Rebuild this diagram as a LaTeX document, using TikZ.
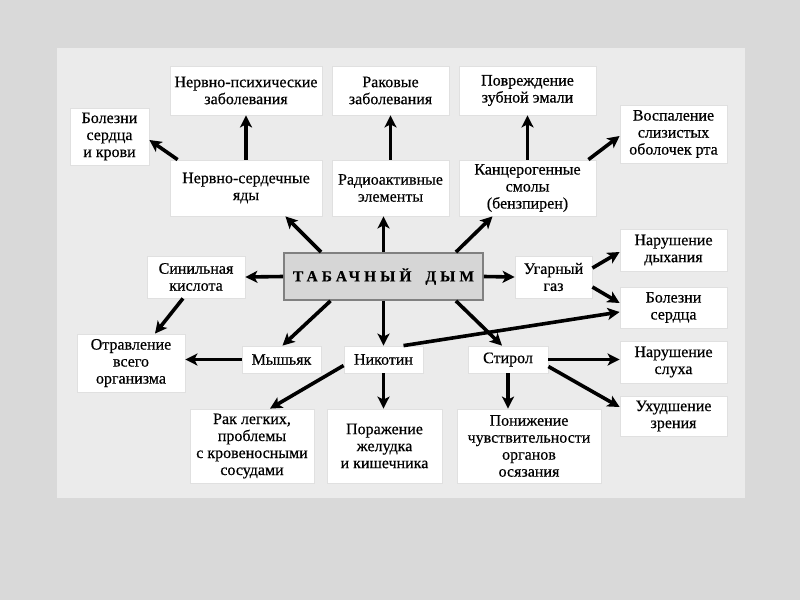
\documentclass[tikz,border=0pt]{standalone}
\usepackage{fontspec}
\setmainfont{Liberation Serif}[FakeBold=0.5]
\usetikzlibrary{arrows.meta}

\tikzset{
  box/.style={draw=black!12, line width=0.8pt, fill=white, align=center, inner sep=1pt,
    font=\fontsize{16}{17}\selectfont},
  smokebox/.style={draw=black!50, line width=1.8pt, fill=black!16, align=center,
    font=\fontsize{15.5}{18}\selectfont\bfseries\addfontfeatures{LetterSpace=26}},
  arr/.style={line width=3.6pt, -{Stealth[length=12pt,width=12pt,inset=3pt]}}
}

\begin{document}
\begin{tikzpicture}[x=1pt, y=-1pt]
        % Background and panel
        \useasboundingbox (0,0) rectangle (800,600);
        \fill[black!15] (0,0) rectangle (800,600);
        \fill[black!8] (57,48) rectangle (745,498);

        % Top row
        \node[box, minimum width=152pt, minimum height=49pt] (psych) at (246,90.5) {Нервно-психические\\заболевания};
        \node[box, minimum width=117pt, minimum height=49pt] (cancer) at (390.5,90.5) {Раковые\\заболевания};
        \node[box, minimum width=137pt, minimum height=49pt] (enamel) at (527.5,90.5) {Повреждение\\зубной эмали};
        \node[box, minimum width=79pt, minimum height=57pt] (heartblood) at (109.5,136.5) {Болезни\\сердца\\и крови};
        \node[box, minimum width=107pt, minimum height=58pt] (mucosa) at (673.5,134) {Воспаление\\слизистых\\оболочек рта};

        % Second row
        \node[box, minimum width=152pt, minimum height=56pt] (nervepois) at (246,188) {Нервно-сердечные\\яды};
        \node[box, minimum width=117pt, minimum height=56pt] (radio) at (390.5,188) {Радиоактивные\\элементы};
        \node[box, minimum width=137pt, minimum height=56pt] (tar) at (527.5,188) {Канцерогенные\\смолы\\(бензпирен)};

        % Centre row
        \node[smokebox, minimum width=199pt, minimum height=47pt] (smoke) at (383.5,276.5) {ТАБАЧНЫЙ\hspace{14pt}ДЫМ};
        \node[box, minimum width=98pt, minimum height=42pt] (cyanide) at (196,277) {Синильная\\кислота};
        \node[box, minimum width=77pt, minimum height=42pt] (monox) at (553.5,277) {Угарный\\газ};
        \node[box, minimum width=107pt, minimum height=42pt] (breath) at (673.5,250) {Нарушение\\дыхания};
        \node[box, minimum width=107pt, minimum height=41pt] (heart) at (673.5,307.5) {Болезни\\сердца};

        % Third row
        \node[box, minimum width=108pt, minimum height=58pt] (poison) at (131,363) {Отравление\\всего\\организма};
        \node[box, minimum width=79pt, minimum height=27pt] (arsenic) at (281.5,359.5) {Мышьяк};
        \node[box, minimum width=79pt, minimum height=27pt] (nicotine) at (383.5,359.5) {Никотин};
        \node[box, minimum width=80pt, minimum height=27pt] (styrene) at (508,359.5) {Стирол};
        \node[box, minimum width=107pt, minimum height=42pt] (hearing) at (673.5,362) {Нарушение\\слуха};
        \node[box, minimum width=107pt, minimum height=40pt] (sight) at (673.5,416) {Ухудшение\\зрения};

        % Bottom row
        \node[box, minimum width=124pt, minimum height=74pt] (lungs) at (252,446) {Рак легких,\\проблемы\\с кровеносными\\сосудами};
        \node[box, minimum width=115pt, minimum height=74pt] (stomach) at (384.5,446) {Поражение\\желудка\\и кишечника};
        \node[box, minimum width=144pt, minimum height=74pt] (touch) at (529,446) {Понижение\\чувствительности\\органов\\осязания};

        % Arrows from the centre
        \draw[arr] ([xshift=38pt]smoke.north west) -- ([xshift=-37pt]nervepois.south east);
        \draw[arr] (smoke.north) -- (smoke.north |- radio.south);
        \draw[arr] ([xshift=-28pt]smoke.north east) -- ([xshift=-35pt]tar.south);
        \draw[arr] (smoke.west) -- (cyanide.east);
        \draw[arr] (smoke.east) -- (monox.west);
        \draw[arr] ([xshift=-53pt]smoke.south) -- ([xshift=1pt]arsenic.north);
        \draw[arr] (smoke.south) -- (nicotine.north);
        \draw[arr] ([xshift=-28pt]smoke.south east) -- ([xshift=-6pt]styrene.north);

        % Upper branches
        \draw[arr] ([xshift=8pt]nervepois.north west) -- ([yshift=-3.5pt]heartblood.east);
        \draw[arr] (nervepois.north) -- (psych.south);
        \draw[arr] (radio.north) -- (cancer.south);
        \draw[arr] (tar.north) -- (enamel.south);
        \draw[arr] ([xshift=-8pt]tar.north east) -- ([yshift=-2pt]mucosa.west);

        % Side branches
        \draw[arr] ([yshift=9pt]monox.east) -- ([yshift=-2pt]breath.west);
        \draw[arr] ([yshift=-10pt]monox.east) -- ([yshift=4.5pt]heart.west);
        \draw[arr] ([xshift=-13pt]cyanide.south) -- ([xshift=24pt]poison.north);
        \draw[arr] (arsenic.west) -- (arsenic.west -| poison.east);

        % Lower branches
        \draw[arr] ([xshift=20pt]nicotine.north) -- ([yshift=-4.5pt]heart.west);
        \draw[arr] ([yshift=-6pt]nicotine.west) -- ([xshift=18pt]lungs.north);
        \draw[arr] (nicotine.south) -- (nicotine.south |- stomach.north);
        \draw[arr] (styrene.south) -- (styrene.south |- touch.north);
        \draw[arr] (styrene.east) -- (styrene.east -| hearing.west);
        \draw[arr] ([yshift=-7pt]styrene.east) -- ([yshift=9pt]sight.west);
\end{tikzpicture}
\end{document}
